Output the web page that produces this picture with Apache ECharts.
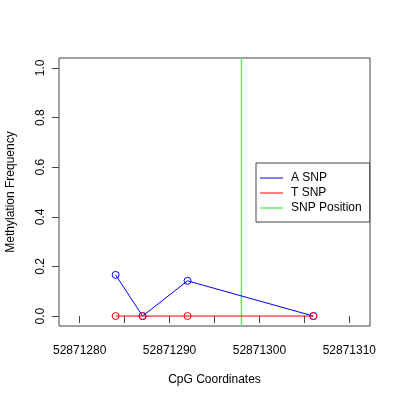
<!DOCTYPE html>
<html><head><meta charset="utf-8">
<script src="https://cdn.jsdelivr.net/npm/echarts@6/dist/echarts.min.js"></script>
<style>html,body{margin:0;padding:0;background:#fff}#c{width:400px;height:400px}</style>
</head><body><div id="c"></div>
<script>
var positions = [52871284, 52871287, 52871292, 52871306];
var aSnp = [0.166, 0.0, 0.142, 0.0];
var tSnp = [0.0, 0.0, 0.0, 0.0];
var snpPosition = 52871298;
var xTicks = [52871280, 52871285, 52871290, 52871295, 52871300, 52871305, 52871310];
var xLabels = [52871280, 52871290, 52871300, 52871310];
var yTicks = [0, 0.2, 0.4, 0.6, 0.8, 1.0];
var xMin = 52871277.7, xMax = 52871312.3, yMin = -0.04, yMax = 1.04;

function pairs(xs, ys){ return xs.map(function(x,i){ return [x, ys[i]]; }); }
var font = 'Liberation Sans, Arial, Helvetica, sans-serif';
var chart = echarts.init(document.getElementById('c'), null, {renderer:'canvas'});
chart.setOption({
  animation:false,
  backgroundColor:'#fff',
  textStyle:{fontFamily:font},
  grid:{left:59, right:30, top:58, bottom:74, show:true, borderColor:'#444', borderWidth:1, backgroundColor:'transparent',
    containLabel:false, outerBoundsMode:'none'},
  legend:{
    left:256, top:163, orient:'vertical', itemWidth:23, itemHeight:1, itemGap:1,
    padding:[8,8,7,4], borderColor:'#444', borderWidth:1, backgroundColor:'#fff',
    icon:'rect',
    textStyle:{fontFamily:font, fontSize:12, color:'#000', lineHeight:14, padding:[0,0,0,3]},
    data:[
      {name:'A SNP', itemStyle:{color:'#0000ff', borderWidth:0}},
      {name:'T SNP', itemStyle:{color:'#ff0000', borderWidth:0}},
      {name:'SNP Position', itemStyle:{color:'#22dd22', borderWidth:0}}
    ]
  },
  xAxis:{
    type:'value', min:xMin, max:xMax,
    name:'CpG Coordinates', nameLocation:'middle', nameGap:48,
    nameTextStyle:{fontFamily:font, fontSize:12, color:'#000'},
    axisLine:{show:false},
    splitLine:{show:false},
    axisPointer:{show:false},
    axisTick:{show:true, inside:false, length:7, customValues:xTicks, lineStyle:{color:'#444'}},
    axisLabel:{show:true, margin:19, customValues:xLabels, fontFamily:font, fontSize:12, color:'#000',
      formatter:function(v){ return String(Math.round(v)); }}
  },
  yAxis:{
    type:'value', min:yMin, max:yMax,
    name:'Methylation Frequency', nameLocation:'middle', nameGap:42,
    nameTextStyle:{fontFamily:font, fontSize:12, color:'#000'},
    axisLine:{show:false},
    splitLine:{show:false},
    axisTick:{show:true, inside:false, length:7, customValues:yTicks, lineStyle:{color:'#444'}},
    axisLabel:{show:true, rotate:90, margin:12, customValues:yTicks, fontFamily:font, fontSize:12, color:'#000',
      formatter:function(v){ return v.toFixed(1); }}
  },
  series:[
    {name:'SNP Position', type:'line', data:[[snpPosition, yMin],[snpPosition, yMax]], symbol:'none',
      lineStyle:{color:'#66e066', width:1.4}, itemStyle:{color:'#22dd22'},
      emphasis:{disabled:true}, z:1},
    {name:'A SNP', type:'line', data:pairs(positions, aSnp), symbol:'circle', symbolSize:7,
      lineStyle:{color:'#0000ff', width:1},
      itemStyle:{color:'rgba(0,0,0,0)', borderColor:'#0000ff', borderWidth:1},
      emphasis:{disabled:true}, z:2},
    {name:'T SNP', type:'line', data:pairs(positions, tSnp), symbol:'circle', symbolSize:7,
      lineStyle:{color:'#ff0000', width:1},
      itemStyle:{color:'rgba(0,0,0,0)', borderColor:'#ff0000', borderWidth:1},
      emphasis:{disabled:true}, z:3}
  ]
});
</script></body></html>
